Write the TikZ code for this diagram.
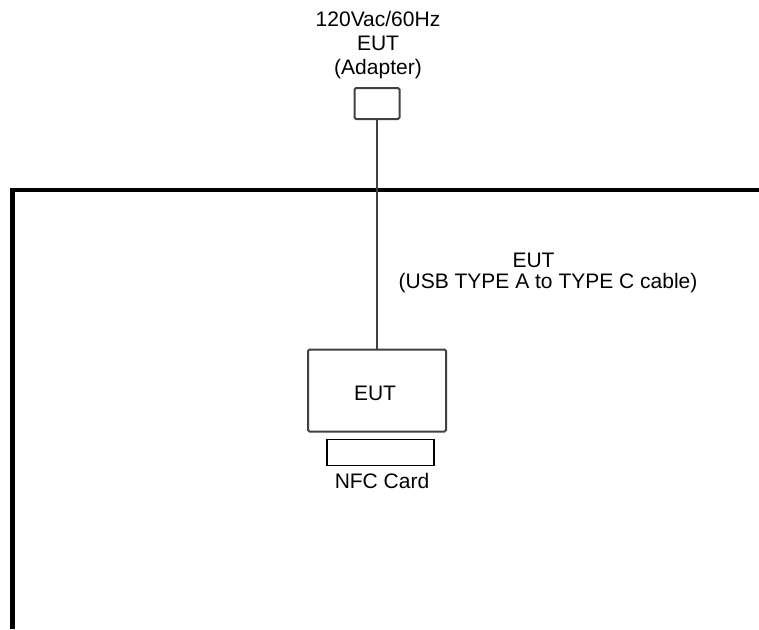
\documentclass[tikz,border=0pt]{standalone}
\usepackage{fontspec}
\setmainfont{Liberation Sans}
\begin{document}
\begin{tikzpicture}[x=1pt,y=-1pt,
  lbl/.style={inner sep=0pt,anchor=base,font=\fontsize{21}{24}\selectfont},
  grayline/.style={draw=black!75,line width=2pt},
  boxnode/.style={grayline,rounded corners=1.5pt,inner sep=0pt,minimum width=#1},
  frame/.style={draw=black,line width=4.5pt}]
\useasboundingbox (0,0) rectangle (759,629);
% frame
\draw[frame,line join=miter] (12.5,629) -- (12.5,190) -- (759,190);
% top labels
\node[lbl] (t1) at (378,26) {120Vac/60Hz};
\node[lbl] (t2) at (378,50) {EUT};
\node[lbl] (t3) at (378,74) {(Adapter)};
% adapter box
\node[boxnode=45pt,minimum height=31pt] (adapter) at (377,103.5) {};
% EUT box
\node[boxnode=138pt,minimum height=82pt] (eut) at (377,390.5) {};
\node[lbl] (euttext) at (375,400) {EUT};
% connector
\draw[grayline] (adapter.south) -- (eut.north);
% NFC card
\node[draw=black,line width=1.6pt,inner sep=0pt,minimum width=107pt,minimum height=26pt] (nfc) at (380.5,452.5) {};
\node[lbl] (nfctext) at (382,488) {NFC Card};
% cable label
\node[lbl] (c1) at (533.5,267) {EUT};
\node[lbl] (c2) at (548,288) {(USB TYPE A to TYPE C cable)};
\end{tikzpicture}
\end{document}
